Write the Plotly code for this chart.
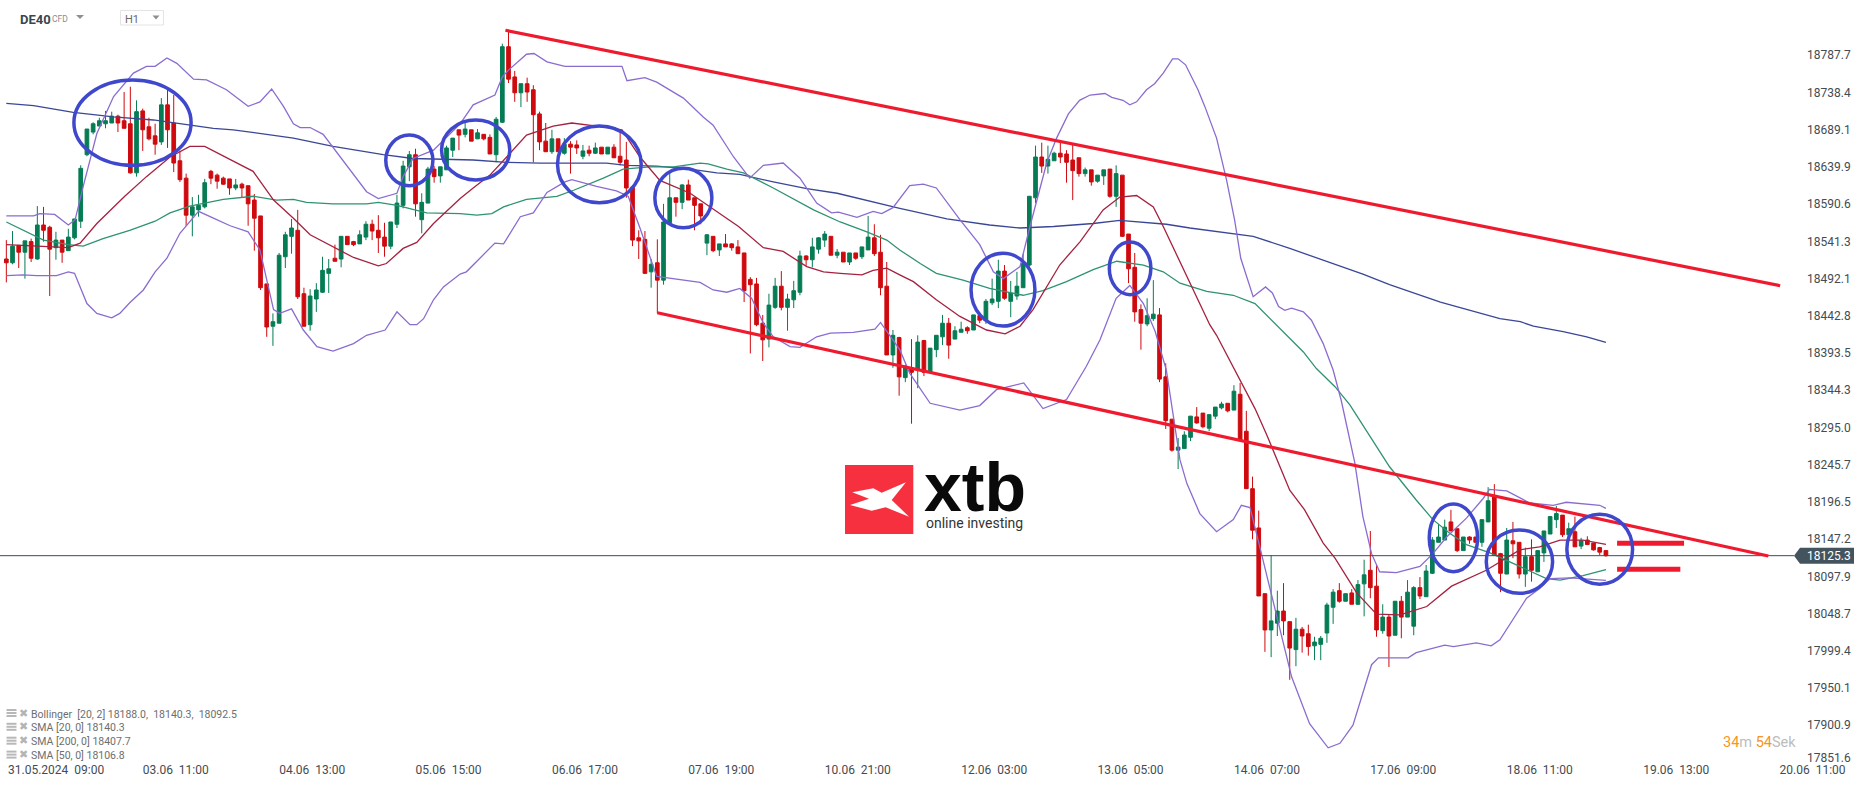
import plotly.graph_objects as go

# ---------- hourly DE40 candles (price values) ----------
open_ = [18518,18513,18536,18527,18541,18518,18563,18560,18533,18543,
18529,18546,18568,18656,18686,18694,18697,18698,18707,18701,
18697,18632,18714,18693,18681,18673,18722,18698,18648,18625,
18576,18583,18587,18634,18629,18625,18624,18612,18617,18615,
18596,18575,18485,18429,18433,18521,18548,18556,18472,18431,
18465,18474,18499,18519,18518,18548,18541,18538,18547,18564,
18556,18547,18535,18564,18589,18640,18656,18570,18592,18637,
18628,18636,18662,18689,18683,18689,18677,18683,18679,18656,
18699,18799,18759,18738,18750,18742,18710,18674,18660,18677,
18658,18670,18669,18654,18662,18658,18666,18657,18666,18654,
18649,18613,18546,18544,18501,18513,18490,18566,18599,18593,
18616,18599,18591,18539,18548,18530,18538,18538,18534,18526,
18491,18485,18433,18412,18454,18482,18454,18464,18474,18522,
18517,18531,18543,18548,18523,18527,18514,18526,18521,18530,
18546,18527,18482,18391,18414,18361,18374,18371,18410,18368,
18398,18415,18433,18412,18421,18427,18424,18443,18437,18460,
18462,18502,18462,18469,18480,18510,18599,18653,18641,18648,
18658,18657,18649,18652,18631,18636,18621,18628,18637,18601,
18629,18551,18507,18451,18432,18439,18444,18362,18306,18265,
18267,18282,18309,18314,18294,18310,18321,18327,18318,18339,
18290,18214,18162,18075,18027,18036,18052,18038,18001,18028,
18022,18006,18008,18023,18057,18079,18065,18076,18061,18088,
18106,18085,18026,18044,18020,18065,18044,18032,18083,18071,
18102,18143,18146,18170,18161,18132,18150,18150,18143,18170,
18204,18128,18101,18145,18143,18101,18124,18104,18129,18154,
18173,18179,18153,18157,18138,18146,18142,18136,18132]
high = [18543,18555,18536,18542,18545,18588,18587,18562,18554,18543,
18558,18571,18642,18690,18699,18705,18714,18713,18709,18739,
18746,18728,18717,18705,18697,18731,18742,18735,18661,18631,
18600,18603,18624,18636,18631,18627,18624,18624,18619,18615,
18604,18575,18485,18446,18526,18554,18571,18583,18480,18478,
18486,18521,18518,18537,18548,18548,18542,18556,18568,18570,
18576,18566,18567,18603,18648,18661,18664,18605,18640,18641,
18640,18668,18678,18689,18698,18689,18690,18683,18683,18706,
18803,18821,18767,18750,18758,18748,18713,18698,18689,18677,
18678,18674,18675,18669,18668,18672,18666,18666,18670,18687,
18673,18613,18556,18555,18518,18544,18591,18632,18599,18617,
18623,18599,18591,18551,18548,18538,18551,18539,18543,18526,
18494,18493,18444,18472,18493,18502,18472,18489,18529,18523,
18546,18547,18555,18548,18531,18527,18526,18526,18534,18575,
18564,18550,18514,18424,18415,18378,18412,18417,18411,18400,
18417,18444,18440,18429,18435,18429,18444,18443,18465,18492,
18517,18510,18489,18501,18525,18601,18668,18672,18668,18660,
18674,18662,18669,18652,18639,18636,18629,18636,18637,18642,
18629,18551,18526,18458,18466,18490,18453,18380,18306,18281,
18290,18310,18322,18314,18312,18322,18329,18327,18351,18354,
18317,18230,18185,18075,18126,18079,18089,18038,18043,18031,
18034,18018,18019,18063,18081,18089,18075,18081,18093,18120,
18158,18114,18061,18048,18065,18072,18093,18085,18097,18113,
18150,18167,18173,18186,18161,18150,18151,18150,18173,18216,
18220,18129,18162,18170,18143,18136,18147,18132,18158,18177,
18191,18179,18169,18177,18149,18151,18142,18137,18132]
low = [18487,18511,18506,18492,18514,18517,18541,18469,18517,18513,
18529,18544,18559,18654,18683,18694,18691,18698,18686,18691,
18631,18627,18661,18675,18656,18669,18665,18633,18620,18562,
18548,18574,18585,18617,18611,18616,18603,18609,18600,18562,
18529,18477,18415,18403,18433,18506,18525,18465,18429,18423,
18448,18473,18473,18515,18507,18537,18535,18538,18543,18543,
18526,18521,18531,18559,18585,18621,18574,18552,18592,18619,
18619,18636,18653,18662,18679,18674,18677,18675,18657,18646,
18698,18751,18726,18719,18726,18646,18662,18660,18657,18660,
18656,18631,18657,18650,18654,18657,18657,18657,18652,18642,
18599,18535,18518,18498,18480,18446,18484,18566,18574,18584,
18596,18556,18564,18523,18527,18522,18534,18529,18525,18461,
18393,18429,18383,18401,18452,18450,18423,18453,18470,18509,
18507,18525,18534,18523,18519,18514,18510,18517,18518,18530,
18522,18470,18391,18374,18337,18355,18300,18347,18363,18368,
18388,18404,18386,18412,18421,18419,18424,18433,18432,18457,
18453,18464,18441,18464,18480,18503,18592,18632,18631,18648,
18645,18619,18596,18627,18627,18615,18619,18616,18599,18587,
18547,18486,18435,18398,18429,18436,18355,18293,18263,18240,
18267,18277,18300,18294,18290,18306,18319,18315,18318,18278,
18214,18147,18072,17998,17991,18019,18020,17961,17979,17997,
17993,17987,17987,18010,18035,18063,18065,18061,18060,18045,
18069,18018,18022,17978,18020,18016,18044,18020,18068,18071,
18101,18143,18146,18158,18130,18132,18141,18143,18137,18170,
18126,18077,18101,18122,18095,18084,18091,18104,18117,18154,
18162,18150,18153,18137,18134,18140,18132,18126,18124]
close = [18513,18535,18527,18542,18519,18563,18556,18531,18543,18527,
18547,18571,18638,18690,18697,18701,18701,18707,18698,18691,
18632,18713,18689,18677,18670,18722,18689,18645,18623,18576,
18587,18589,18619,18625,18621,18617,18612,18616,18612,18591,
18572,18480,18428,18435,18523,18550,18559,18468,18429,18469,
18477,18503,18505,18515,18548,18537,18537,18550,18564,18555,
18546,18535,18567,18592,18641,18656,18591,18593,18637,18627,
18640,18665,18678,18682,18690,18674,18685,18677,18657,18703,
18799,18756,18738,18750,18739,18709,18673,18660,18677,18660,
18670,18666,18665,18661,18658,18665,18657,18666,18652,18646,
18612,18543,18542,18499,18511,18490,18567,18599,18593,18616,
18596,18589,18575,18550,18529,18538,18534,18533,18525,18476,
18484,18431,18411,18457,18482,18454,18465,18476,18522,18517,
18534,18546,18551,18523,18527,18514,18526,18519,18534,18547,
18525,18480,18391,18417,18362,18375,18368,18408,18368,18400,
18417,18433,18404,18423,18425,18423,18444,18437,18462,18465,
18502,18466,18473,18482,18512,18601,18653,18641,18650,18658,
18653,18646,18635,18631,18636,18620,18629,18636,18601,18631,
18548,18505,18448,18433,18443,18445,18359,18304,18265,18269,
18285,18310,18301,18296,18312,18322,18326,18317,18343,18278,
18214,18159,18072,18027,18039,18052,18039,18003,18028,18019,
18005,18011,18016,18060,18077,18065,18075,18061,18087,18100,
18083,18027,18044,18019,18065,18044,18077,18083,18072,18105,
18146,18150,18163,18158,18132,18150,18146,18143,18173,18198,
18126,18102,18146,18141,18101,18124,18106,18132,18158,18177,
18181,18153,18161,18137,18145,18140,18133,18130,18125.3]

# ---------- indicators: (candle number, price) pairs ----------
bb_up_i = [0,4.4,5.4,7.8,10,11.1,12.4,14.6,17.3,20.5,22.6,24,25.9,27.5,30.2,32.3,35.5,39,40.9,42.8,44.7,46.3,47.4,49,51.1,54.9,58.1,60,63,64,65.6,68.9,73.2,75.3,78.8,80,81,83.9,85.1,87.2,90.1,99.3,100.1,103,104.9,109.2,112.4,114,117.3,119.9,122.1,125.3,128,130.7,133.1,134.2,137.2,139.8,141.2,143,145.7,147.9,150,153.8,157,159.2,160.8,163.5,165.1,167.8,169.4,171.3,173.1,174.8,177.2,178.3,180.1,181.2,182.3,183.9,185.2,186.6,188.1,189,190.2,192.2,193.3,195.2,196.8,198.1,199.1,201.1,203.1,204.2,205.2,206.2,207.3,209.2,210.5,212.4,214,215.3,216.1,217.5,218.8,220.2,221.5,224.2,228,230.1,232.3,235.5,238.2,239.2,242,245.7,249.5,251.6,257,258]
bb_up_p = [18575,18575,18578,18577,18563,18570,18614,18684,18733,18764,18773,18773,18784,18777,18756,18755,18742,18720,18726,18743,18720,18697,18692,18692,18683,18641,18607,18598,18605,18627,18651,18662,18697,18722,18735,18759,18768,18789,18790,18779,18773,18773,18754,18758,18752,18731,18706,18695,18653,18625,18642,18645,18625,18592,18579,18580,18573,18581,18578,18586,18615,18617,18612,18570,18537,18501,18492,18508,18561,18645,18678,18710,18728,18735,18737,18732,18728,18722,18726,18742,18750,18764,18783,18783,18775,18742,18720,18678,18623,18570,18519,18468,18481,18473,18455,18450,18453,18448,18437,18406,18371,18331,18300,18248,18177,18128,18104,18103,18111,18128,18150,18175,18201,18213,18211,18195,18192,18196,18192,18188.0]
bb_lo_i = [0,2.7,4.9,8.1,10,11,13,14.6,17,18.3,19.9,22.1,24,25.9,28,31,33.4,36.1,39,40.9,43.1,44.1,46,47.9,50.1,52.7,56,58.1,61.1,63,65.1,66.2,67.3,68.9,70.5,73.2,74.2,78.8,80.2,82.9,85,87.2,90.1,91.2,95.2,98.4,100.3,102.2,104.9,111.9,114,116.2,118.3,120.2,122.1,123.7,126.4,128,130.7,132.9,136.6,140.1,141,144.1,145.7,149,153.8,157,159.7,162.4,164.1,167.2,171,174.2,176.4,179,181.2,183.4,185.3,187.1,189.3,190.4,192.5,195.2,197.9,199.2,200.6,201.9,204.1,207.3,210.2,213.2,215.1,217.2,220.2,221.3,226.1,227.4,232,233.4,237.1,239.5,240.9,244.1,245.2,247.3,249,252.2,258]
bb_lo_p = [18496,18497,18496,18496,18501,18499,18459,18446,18440,18446,18460,18477,18501,18519,18552,18581,18572,18562,18554,18530,18451,18446,18452,18424,18402,18396,18406,18417,18424,18448,18431,18431,18439,18464,18481,18498,18501,18539,18538,18574,18579,18606,18620,18623,18614,18608,18601,18559,18495,18487,18477,18474,18479,18466,18433,18415,18402,18401,18415,18420,18421,18425,18434,18398,18367,18327,18318,18324,18345,18350,18354,18320,18332,18376,18411,18466,18483,18459,18422,18371,18252,18221,18181,18157,18173,18192,18189,18146,18071,17965,17903,17871,17877,17901,17981,17990,17990,17997,18007,18005,18010,18006,18014,18054,18069,18082,18095,18096,18092.5]
sma20_i = [0,10,11.9,14.6,19.1,22.6,26.4,29.6,32,36.6,39.8,43.1,46.3,49,52.7,56,60,61.3,64,66.2,68.9,73.2,75.3,78,80.7,83.9,88.2,91.2,95.2,99.3,102.2,105.4,110.3,113.5,118.1,122.1,125.3,129.1,131.8,134.5,138,139.8,142,144.1,146.3,150,153.8,158.1,161.1,163.5,165.6,169.9,173.2,176.9,179.6,182.3,185,186.6,189.3,191.4,194.1,195.2,197.3,199.5,201.4,203.3,207,209.4,212.4,214.3,217.8,221,224.8,229.1,233.1,238.7,244.1,247.3,250.6,254.3,258]
sma20_p = [18537,18533,18539,18565,18601,18627,18653,18667,18667,18647,18634,18596,18572,18550,18534,18520,18509,18512,18532,18540,18565,18598,18612,18629,18653,18682,18694,18698,18694,18689,18653,18622,18605,18587,18561,18533,18528,18508,18501,18499,18497,18503,18506,18497,18488,18464,18442,18424,18419,18429,18451,18510,18541,18583,18600,18602,18587,18561,18515,18477,18431,18417,18384,18351,18320,18285,18212,18186,18142,18122,18076,18048,18047,18058,18085,18106,18133,18137,18146,18146,18140.3]
sma50_i = [0,2.7,6,10,12.4,15.6,19.9,24,26.4,29.6,35,39.8,43.6,46.3,48.4,52.7,58.1,60,63,67.8,73.2,75.9,78.3,80.2,83.9,88.8,91.5,96.3,99.5,103.8,107.6,111.9,113.2,116.2,118.9,123.7,127,130.2,134.5,138.8,142,144.1,147.4,150,154.3,158.6,164,167.2,171,175.3,179.1,183.4,186.6,189.3,193.6,197.9,201.4,204.3,207.5,209.2,211.3,214.3,216.7,219.1,223.1,227.4,230.1,232.8,235.5,239.3,244.1,248.4,250.6,254.3,258]
sma50_p = [18567,18556,18543,18537,18535,18545,18556,18568,18579,18588,18597,18601,18596,18597,18593,18591,18591,18593,18589,18579,18578,18576,18578,18587,18597,18601,18609,18625,18637,18640,18640,18645,18644,18637,18632,18612,18597,18583,18567,18554,18543,18530,18512,18499,18490,18479,18470,18476,18488,18504,18515,18510,18501,18486,18475,18470,18459,18435,18409,18395,18373,18349,18325,18294,18243,18199,18173,18155,18140,18129,18111,18095,18093,18099,18106.8]
sma200_i = [0,4.4,10.8,17.3,23.7,30.2,33.4,36.6,46.3,52.7,60.8,65.6,73.2,75.3,80.7,86.1,96.8,100,104.9,110.3,114.6,118.3,123.7,129.1,134,139.3,144.1,146.3,151.7,158.6,163.5,168.9,175.3,179.6,182.8,187.1,190.9,196.3,201.1,207,215.1,218.8,223.1,226.4,229.6,231.3,236.1,240.9,244.2,246.3,251.1,254.9,258]
sma200_p = [18724,18721,18712,18706,18702,18695,18691,18689,18678,18667,18656,18651,18650,18649,18646,18645,18645,18642,18641,18637,18632,18630,18620,18611,18605,18594,18585,18581,18571,18563,18559,18561,18565,18569,18567,18564,18559,18553,18548,18532,18509,18498,18484,18475,18466,18461,18450,18439,18435,18429,18422,18415,18407.7]

# ---------- axes: every 22nd candle carries a time label ----------
tick_idx = [0,22,44,66,88,110,132,154,176,198,220,242,264,286]
tick_labels = ["31.05.2024\u00a0\u00a009:00","03.06\u00a0\u00a011:00","04.06\u00a0\u00a013:00","05.06\u00a0\u00a015:00",
               "06.06\u00a0\u00a017:00","07.06\u00a0\u00a019:00","10.06\u00a0\u00a021:00","12.06\u00a0\u00a003:00",
               "13.06\u00a0\u00a005:00","14.06\u00a0\u00a007:00","17.06\u00a0\u00a009:00","18.06\u00a0\u00a011:00",
               "19.06\u00a0\u00a013:00","20.06\u00a0\u00a011:00"]
price_ticks = [18787.7,18738.4,18689.1,18639.9,18590.6,18541.3,18492.1,18442.8,18393.5,18344.3,18295.0,
               18245.7,18196.5,18147.2,18097.9,18048.7,17999.4,17950.1,17900.9,17851.6]
last_price = 18125.3

# ---------- page geometry ----------
W, H, PW, PH = 1866, 787, 1803, 761
XSTEP, X0 = 6.2, 6.33           # pixels per candle, first candle
PTOP, PSCALE = 18860.8, 1.3236  # price at the plot top, price per pixel
xmin, xmax = -X0 / XSTEP, (PW - X0) / XSTEP
ymax, ymin = PTOP, PTOP - PH * PSCALE
px = lambda v: v / PW
py = lambda v: 1 - v / PH

INK = "#444c52"
RED, GREEN = "#cf0a0e", "#067c55"
PURPLE, NAVY, WINE, TEAL = "#8a6cd0", "#3a4796", "#a5213f", "#2f9272"
MARK_RED, MARK_BLUE = "#f01a2e", "#3f48cc"

fig = go.Figure()
fig.add_trace(go.Candlestick(
    x=list(range(len(open_))), open=open_, high=high, low=low, close=close,
    increasing=dict(line=dict(color=GREEN, width=1), fillcolor=GREEN),
    decreasing=dict(line=dict(color=RED, width=1), fillcolor=RED),
    whiskerwidth=0, hoverinfo="skip", showlegend=False))
for xs, ys, col in [(sma200_i, sma200_p, NAVY), (sma50_i, sma50_p, TEAL), (sma20_i, sma20_p, WINE),
                    (bb_up_i, bb_up_p, PURPLE), (bb_lo_i, bb_lo_p, PURPLE)]:
    fig.add_trace(go.Scatter(x=xs, y=ys, mode="lines", line=dict(color=col, width=1.3),
                             hoverinfo="skip", showlegend=False))

shapes = []
# price line and its tag
shapes.append(dict(type="line", xref="paper", yref="y", x0=0, x1=px(1794), y0=last_price, y1=last_price,
                   line=dict(color="#3e4d57", width=1), layer="above"))
tag_y = (18860.8 - last_price) / PSCALE
shapes.append(dict(type="path", xref="paper", yref="paper",
                   path=f"M {px(1794)} {py(tag_y)} L {px(1800)} {py(tag_y-8)} L {px(1854)} {py(tag_y-8)} "
                        f"L {px(1854)} {py(tag_y+8)} L {px(1800)} {py(tag_y+8)} Z",
                   fillcolor="#44545f", line=dict(width=0)))
# drawn trend lines
for x0, y0, x1, y1, w in [(80.5, 18820.7, 286.1, 18482.6, 3.2), (105, 18446.9, 284.2, 18124.9, 3.2),
                          (259.8, 18141.7, 270.6, 18141.7, 5), (259.8, 18107.3, 270.0, 18107.3, 5)]:
    shapes.append(dict(type="line", xref="x", yref="y", x0=x0, x1=x1, y0=y0, y1=y1,
                       line=dict(color=MARK_RED, width=w), layer="above"))
# drawn circles
for x0, x1, y1, y0 in [(10.9, 29.8, 18754.9, 18642), (61.2, 68.8, 18682.1, 18615), (70.2, 81.2, 18702, 18622.6),
                       (88.9, 102.4, 18694, 18592.5), (104.6, 113.8, 18638, 18559.4), (155.6, 165.9, 18525.5, 18429.3),
                       (177.9, 184.6, 18540.5, 18470.7), (229.5, 237.3, 18193.7, 18104.1),
                       (238.7, 249.4, 18159.3, 18075.5), (251.7, 262.3, 18180.1, 18087.4)]:
    shapes.append(dict(type="circle", xref="x", yref="y", x0=x0, x1=x1, y0=y0, y1=y1,
                       line=dict(color=MARK_BLUE, width=3.5), layer="above"))
# header controls
def tri(x0, x1, y0, y1, col):
    return dict(type="path", xref="paper", yref="paper", fillcolor=col, line=dict(width=0),
                path=f"M {px(x0)} {py(y0)} L {px(x1)} {py(y0)} L {px((x0+x1)/2)} {py(y1)} Z")
shapes.append(tri(76, 84, 15, 19, "#8f8f8f"))
shapes.append(dict(type="rect", xref="paper", yref="paper", x0=px(120.5), x1=px(163.5), y0=py(25), y1=py(10.5),
                   line=dict(color="#e4e4e4", width=1), fillcolor="rgba(0,0,0,0)"))
shapes.append(tri(152.5, 159.5, 15.5, 19.5, "#8f8f8f"))
# logo
shapes.append(dict(type="rect", xref="paper", yref="paper", x0=px(845), x1=px(913.3), y0=py(534), y1=py(465),
                   fillcolor="#f7303f", line=dict(width=0)))
logo_x = [(852.3,492.3),(873.3,488.3),(881.7,492.7),(906,482.3),(891.7,500),(909,516.7),
          (885.7,507.3),(871.7,510.7),(850,505),(869,498.7)]
shapes.append(dict(type="path", xref="paper", yref="paper", fillcolor="white", line=dict(width=0),
                   path="M " + " L ".join(f"{px(a)} {py(b)}" for a, b in logo_x) + " Z"))

def note(x, y, text, size, color, font="Roboto", anchor="left", **kw):
    return dict(xref="paper", yref="paper", x=px(x), y=py(y), text=text, showarrow=False, xanchor=anchor,
                yanchor="middle", font=dict(family=font, size=size, color=color), borderpad=0, borderwidth=0, **kw)

notes = [
    note(20, 19, "<b>DE40</b>", 13, "#37474f"),
    note(52, 19, "CFD", 8.5, "#8c8c8c"),
    note(125, 20, "H1", 11, "#6a6a6a"),
    note(1806.5, tag_y, "18125.3", 12, "#ffffff"),
    note(1723, 742.5, "<span style='color:#f7941d'>34</span>m <span style='color:#f7941d'>54</span>Sek", 14.5, "#bcbcbc"),
    note(924, 487, "<b>xtb</b>", 68, "#0a0a0a", font="Liberation Sans"),
    note(926, 523, "online investing", 14, "#333333"),
]
legend_rows = ["Bollinger\u00a0\u00a0[20,\u00a02]\u00a018188.0,\u00a0\u00a018140.3,\u00a0\u00a018092.5",
               "SMA\u00a0[20,\u00a00]\u00a018140.3", "SMA\u00a0[200,\u00a00]\u00a018407.7", "SMA\u00a0[50,\u00a00]\u00a018106.8"]
for yy, row in zip([714, 727.8, 741.7, 755.6], legend_rows):
    notes.append(note(31, yy, row, 10.5, "#6e6e6e"))
    notes.append(note(19, yy - 1, "\u2716", 11, "#b4b4b4", font="DejaVu Sans"))
    for dy in (-5, -2, 1):
        shapes.append(dict(type="rect", xref="paper", yref="paper", x0=px(6.5), x1=px(16.5), y0=py(yy + dy + 2),
                           y1=py(yy + dy), fillcolor="#b8b8b8", line=dict(width=0)))

tick_pos = [i + (2.7 if n == 0 else 0) for n, i in enumerate(tick_idx)]
y_pos = price_ticks[:-1] + [17858.4]

fig.update_layout(
    width=W, height=H, autosize=False, paper_bgcolor="white", plot_bgcolor="white", boxgap=0.15,
    margin=dict(l=0, r=W - PW, t=0, b=H - PH, pad=0), showlegend=False, shapes=shapes, annotations=notes,
    hovermode=False, dragmode=False, font=dict(family="Roboto", size=12, color=INK),
    xaxis=dict(range=[xmin, xmax], rangeslider=dict(visible=False), showgrid=False, zeroline=False, showline=False,
               ticks="", tickmode="array", tickvals=tick_pos, ticktext=tick_labels, ticklabelshift=33,
               tickfont=dict(family="Roboto", size=12, color=INK)),
    yaxis=dict(range=[ymin, ymax], side="right", showgrid=False, zeroline=False, showline=False, ticks="",
               tickmode="array", tickvals=y_pos, ticktext=[f"{p:.1f}" for p in price_ticks], ticklabelstandoff=3,
               tickfont=dict(family="Roboto", size=12, color=INK)),
)
fig.write_html("out.html", config=dict(displayModeBar=False, staticPlot=True),
               post_script="document.body.style.margin='0';document.documentElement.style.overflow='hidden';")
